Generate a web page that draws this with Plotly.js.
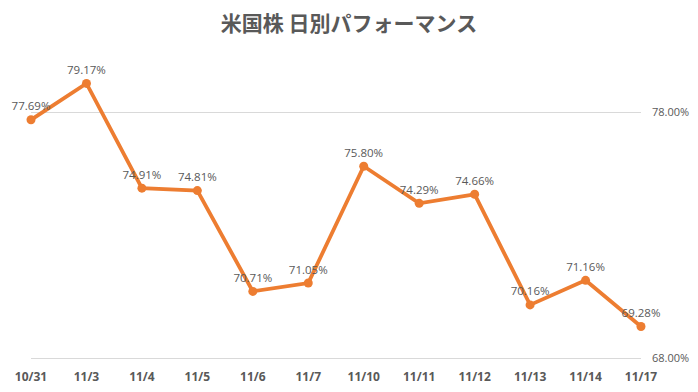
<!DOCTYPE html>
<html>
<head>
<meta charset="utf-8">
<script src="https://cdn.plot.ly/plotly-3.0.1.min.js"></script>
<style>html,body{margin:0;padding:0;background:#fff;}#chart{width:698px;height:392px;}</style>
</head>
<body>
<div id="chart"></div>
<script>
const categories = ["10/31","11/3","11/4","11/5","11/6","11/7","11/10","11/11","11/12","11/13","11/14","11/17"];
const performance = [77.69, 79.17, 74.91, 74.81, 70.71, 71.05, 75.80, 74.29, 74.66, 70.16, 71.16, 69.28];
const yTicks = [68, 78];
const yTickLabels = ["68.00%", "78.00%"];

const trace = {
  x: categories,
  y: performance,
  type: 'scatter',
  mode: 'lines+markers+text',
  text: performance.map(v => v.toFixed(2) + '%'),
  textposition: 'top center',
  textfont: {family: 'Open Sans, Liberation Sans, sans-serif', size: 11.5, color: '#595959'},
  line: {color: '#ED7D31', width: 3.8},
  marker: {color: '#ED7D31', size: 9},
  cliponaxis: false,
  hoverinfo: 'skip'
};

const layout = {
  width: 698, height: 392,
  margin: {l: 31, r: 57, t: 63, b: 34},
  paper_bgcolor: '#fff', plot_bgcolor: '#fff',
  showlegend: false,
  title: {
    text: '<b>米国株 日別パフォーマンス</b>',
    font: {family: 'Noto Sans CJK JP, sans-serif', size: 21, color: '#595959'},
    x: 0.5, xanchor: 'center', y: 0.94, yanchor: 'middle'
  },
  xaxis: {
    type: 'category',
    range: [0, categories.length - 1],
    showgrid: false, zeroline: false,
    showline: true, linecolor: '#d9d9d9', linewidth: 1,
    ticks: '',
    tickfont: {family: 'Open Sans, Liberation Sans, sans-serif', size: 12, color: '#595959', weight: 'bold'},
    ticklabelstandoff: 8,
    fixedrange: true
  },
  yaxis: {
    side: 'right',
    range: [68, 80],
    tickvals: yTicks,
    ticktext: yTickLabels,
    showgrid: true, gridcolor: '#d9d9d9', gridwidth: 1,
    zeroline: false, showline: false, ticks: '',
    tickfont: {family: 'Open Sans, Liberation Sans, sans-serif', size: 11, color: '#595959'},
    ticklabelstandoff: 10,
    fixedrange: true
  }
};

Plotly.newPlot('chart', [trace], layout, {displayModeBar: false, staticPlot: true});
</script>
</body>
</html>
